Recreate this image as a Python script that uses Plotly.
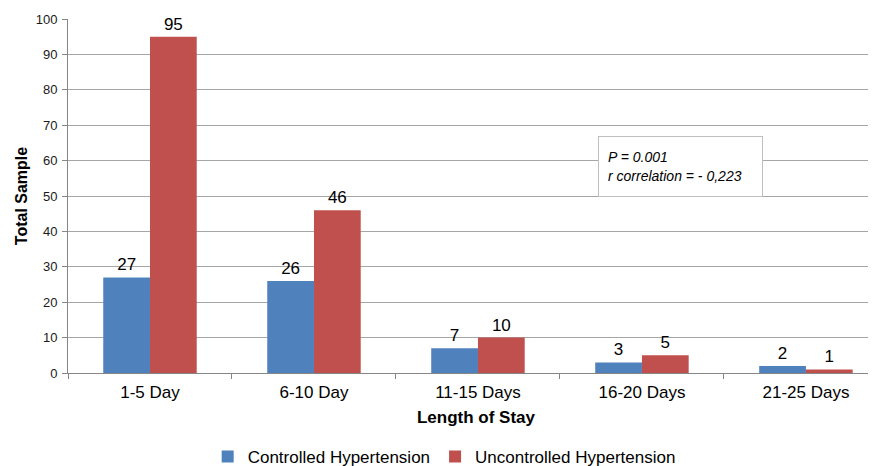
import plotly.graph_objects as go

categories = ["1-5 Day", "6-10 Day", "11-15 Days", "16-20 Days", "21-25 Days"]
controlled = [27, 26, 7, 3, 2]
uncontrolled = [95, 46, 10, 5, 1]
y_ticks = [0, 10, 20, 30, 40, 50, 60, 70, 80, 90, 100]

font_family = "Liberation Sans, Arial, sans-serif"

fig = go.Figure()
fig.add_trace(go.Bar(
    x=categories, y=controlled, name="Controlled Hypertension",
    marker=dict(color="#4F81BD", line=dict(width=0)),
    text=controlled, textposition="outside",
    textfont=dict(size=17, color="#000000", family=font_family),
    cliponaxis=False,
))
fig.add_trace(go.Bar(
    x=categories, y=uncontrolled, name="Uncontrolled Hypertension",
    marker=dict(color="#C0504D", line=dict(width=0)),
    text=uncontrolled, textposition="outside",
    textfont=dict(size=17, color="#000000", family=font_family),
    cliponaxis=False,
))

fig.add_annotation(
    x=3.232, y=58.3, xref="x", yref="y",
    text="<i>P = 0.001<br>r correlation = - 0,223</i>",
    showarrow=False, align="left", valign="middle",
    width=145, height=41,
    font=dict(size=14, color="#000000", family=font_family),
    bordercolor="#bfbfbf", borderwidth=1, borderpad=9,
    bgcolor="#ffffff",
)

fig.update_layout(
    width=876, height=466,
    margin=dict(l=60, r=0, t=11, b=101, autoexpand=False),
    paper_bgcolor="#ffffff", plot_bgcolor="#ffffff",
    barmode="group", bargap=0.43, bargroupgap=0,
    font=dict(family=font_family, color="#000000"),
    showlegend=True,
    legend=dict(
        orientation="h", x=0.461, xanchor="center", y=-0.237, yanchor="middle",
        font=dict(size=17, color="#000000"), itemwidth=30,
        traceorder="normal",
    ),
    xaxis=dict(
        range=[-0.5, 4.476], showgrid=False, automargin=False,
        showline=True, linecolor="#868686", linewidth=1,
        ticks="outside", tickson="boundaries", ticklen=5, tickcolor="#868686",
        ticklabelstandoff=4,
        tickfont=dict(size=17, color="#000000"),
        title=dict(text="<b>Length of Stay</b>", font=dict(size=17, color="#000000"), standoff=9),
    ),
    yaxis=dict(
        range=[0, 100], tickvals=y_ticks, automargin=False,
        showgrid=True, gridcolor="#a6a6a6", gridwidth=1,
        showline=True, linecolor="#868686", linewidth=1,
        ticks="outside", ticklen=5, tickcolor="#868686",
        ticklabelstandoff=2,
        tickfont=dict(size=13, color="#1a1a1a"),
        title=dict(text="<b>Total Sample</b>", font=dict(size=16, color="#000000"), standoff=4),
        zeroline=False,
    ),
)

fig.write_html("out.html")
